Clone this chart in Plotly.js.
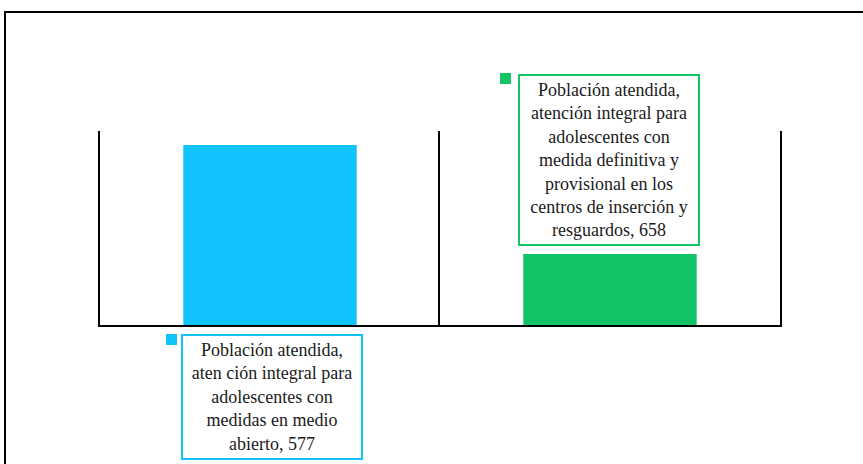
<!DOCTYPE html>
<html>
<head>
<meta charset="utf-8">
<script src="https://cdn.plot.ly/plotly-3.0.1.min.js"></script>
<style>
  html, body { margin: 0; padding: 0; background: #fff; }
  #chart { width: 863px; height: 464px; }
</style>
</head>
<body>
<div id="chart"></div>
<script>
// Two panels, one bar each, each with its own y scale

const CATEGORIES = ['Medio abierto', 'Centros de inserción'];
const VALUES = [577, 658];
const LABELS = [
    'Población atendida,<br>aten ción integral para<br>adolescentes con<br>medidas en medio<br>abierto',
    'Población atendida,<br>atención integral para<br>adolescentes con<br>medida definitiva y<br>provisional en los<br>centros de inserción y<br>resguardos',
];
// per-panel y maxima, as the panels were scaled independently
const Y_MAX = [622, 1798];

const COLORS = ['#10c3fc', '#12c466'];

const W = 863, H = 464;
const px = v => v / W;
const py = v => 1 - v / H;

const traces = VALUES.map((v, i) => ({
    type: 'bar',
    x: [CATEGORIES[i]],
    y: [v],
    width: 0.51,
    marker: { color: COLORS[i], line: { width: 0 } },
    hoverinfo: 'skip',
    xaxis: i === 0 ? 'x' : 'x2',
    yaxis: i === 0 ? 'y' : 'y2',
}));

const axisX = domain => ({
    domain,
    range: [-0.5, 0.5],
    showline: true, linecolor: '#000', linewidth: 2,
    showticklabels: false, ticks: '', showgrid: false, zeroline: false,
    fixedrange: true,
});
const axisY = (max, mirror) => ({
    domain: [py(325), py(131)],
    range: [0, max],
    showline: true, linecolor: '#000', linewidth: 2, mirror,
    showticklabels: false, ticks: '', showgrid: false, zeroline: false,
    fixedrange: true,
});

const labelPos = [
    { y: py(397), dx: 2, sq: [166, 334] },
    { y: py(160), dx: -1, sq: [500, 73] },
];

const annotations = VALUES.map((v, i) => ({
    text: LABELS[i] + ', ' + v,
    xref: i === 0 ? 'x' : 'x2',
    x: CATEGORIES[i],
    yref: 'paper',
    y: labelPos[i].y,
    xshift: labelPos[i].dx,
    xanchor: 'center', yanchor: 'middle',
    showarrow: false,
    align: 'center',
    width: 170,
    borderpad: 4,
    bordercolor: COLORS[i],
    borderwidth: 2,
    bgcolor: '#fff',
    font: { family: 'Liberation Serif', size: 18, color: '#1a1a1a' },
}));

const shapes = [
    // outer frame (cut off at right and bottom)
    { type: 'rect', xref: 'paper', yref: 'paper', x0: px(5), x1: px(900), y0: py(500), y1: py(12),
      line: { color: '#000', width: 2 }, fillcolor: 'rgba(0,0,0,0)' },
    ...labelPos.map((p, i) => ({
        type: 'rect', xref: 'paper', yref: 'paper',
        x0: px(p.sq[0]), x1: px(p.sq[0] + 11), y0: py(p.sq[1] + 11), y1: py(p.sq[1]),
        line: { width: 0 }, fillcolor: COLORS[i],
    })),
];

const layout = {
    width: W, height: H,
    paper_bgcolor: '#fff', plot_bgcolor: '#fff',
    margin: { t: 0, r: 0, b: 0, l: 0 },
    showlegend: false,
    font: { family: 'Liberation Serif' },
    xaxis: axisX([px(100), px(440)]),
    xaxis2: axisX([px(440), px(780)]),
    yaxis: axisY(Y_MAX[0], false),
    yaxis2: { ...axisY(Y_MAX[1], true), anchor: 'x2' },
    annotations,
    shapes,
};
layout.xaxis2.anchor = 'y2';

Plotly.newPlot('chart', traces, layout, { displayModeBar: false, staticPlot: true });
</script>
</body>
</html>
